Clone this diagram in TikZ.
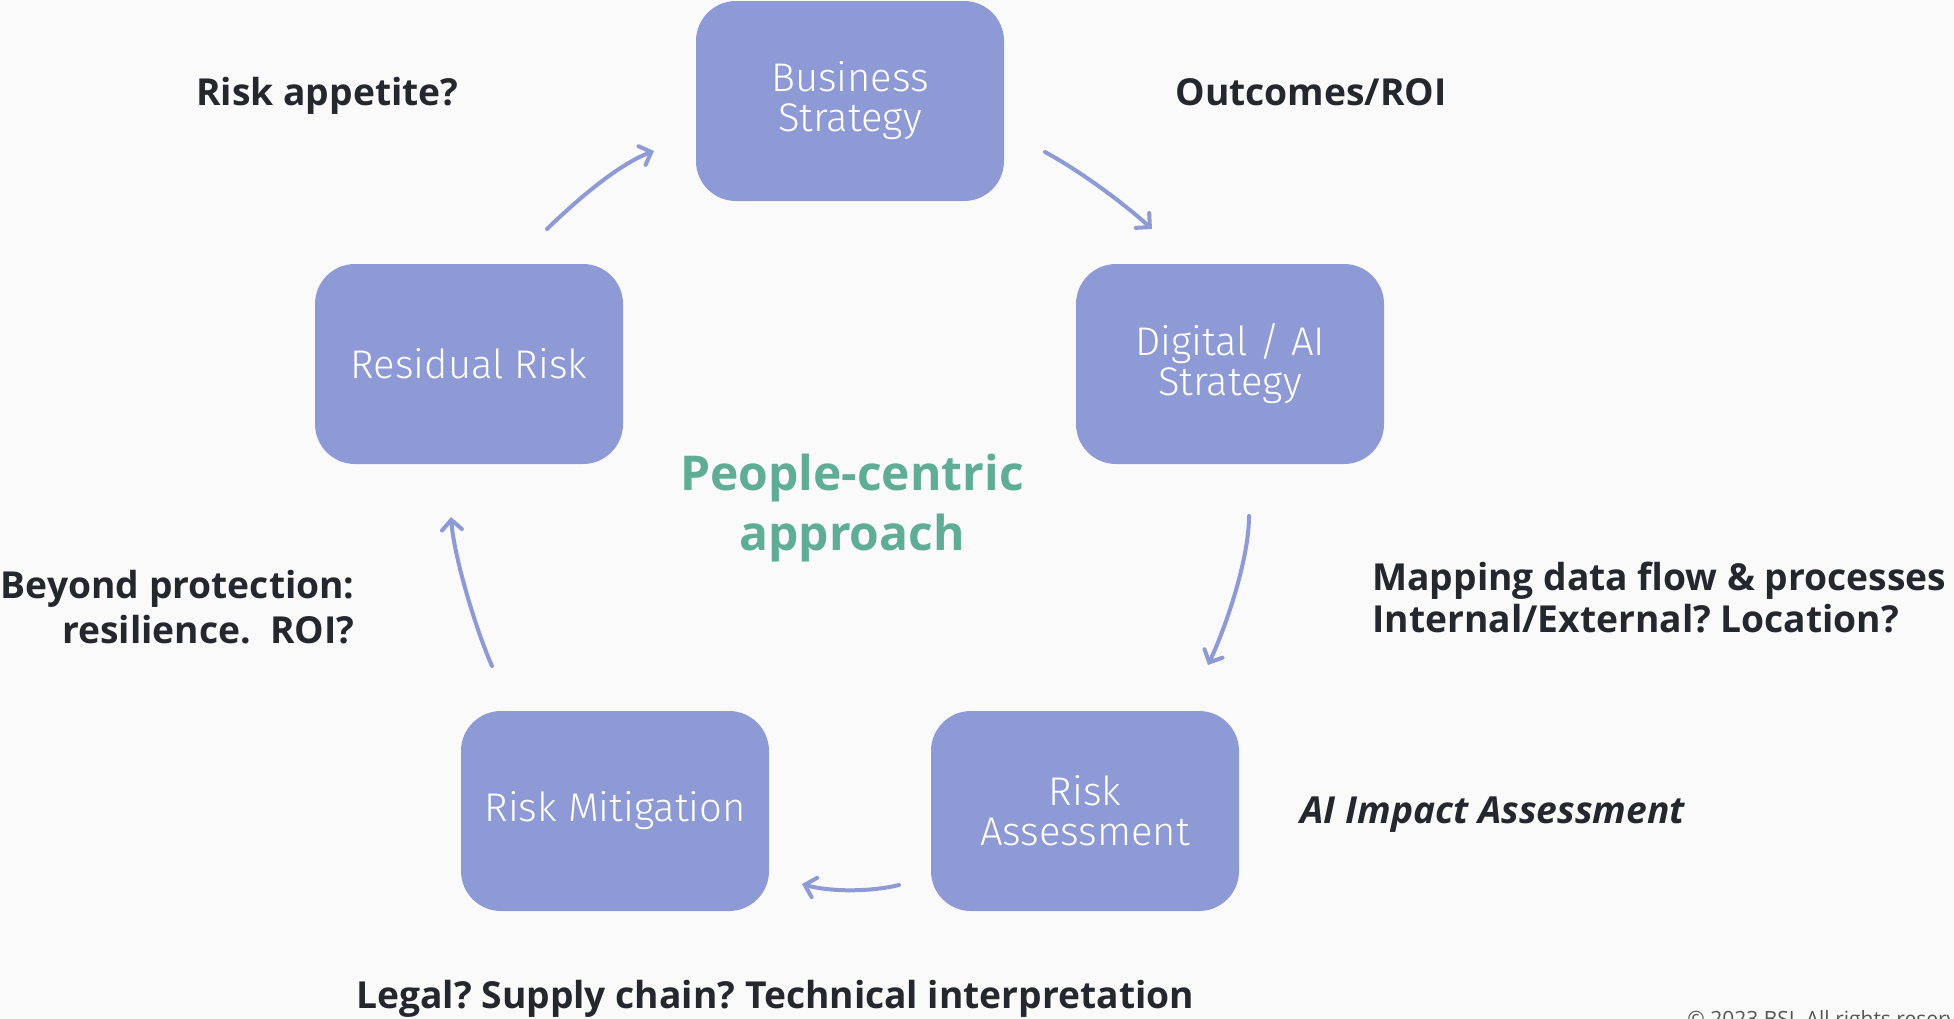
\documentclass[tikz,border=0pt]{standalone}
\usepackage{fontspec}
\setmainfont{Open Sans}
\newfontfamily\boxfont{Fira Sans Light}
\usetikzlibrary{arrows.meta}
\definecolor{bg}{HTML}{FAFAFA}
\definecolor{boxc}{HTML}{8E9AD6}
\definecolor{txt}{HTML}{24272E}
\definecolor{grn}{HTML}{5EAD94}
\definecolor{copyc}{HTML}{555555}
\frenchspacing
\begin{document}
\begin{tikzpicture}[x=0.5pt,y=-0.5pt,
  stage/.style={fill=boxc, draw=none, rounded corners=20pt, minimum width=154pt,
    minimum height=100pt, text=white, font=\boxfont\fontsize{20}{20}\selectfont,
    align=center, inner sep=0pt},
  lbl/.style={text=txt, font=\bfseries\fontsize{18.6}{23}\selectfont, inner sep=0pt},
  ctr/.style={text=grn, font=\bfseries\fontsize{24}{31}\selectfont, inner sep=0pt},
  flow/.style={draw=boxc, line width=2pt, line cap=round,
    -{Straight Barb[length=5pt,width=10pt,line cap=round]}}]
\fill[bg] (0,0) rectangle (1954,1018);
\useasboundingbox (0,0) rectangle (1954,1018);
\clip (0,0) rectangle (1954,1018);

% stages
\node[stage] (bs) at (850,101) {Business\\Strategy};
\node[stage] (dig) at (1230,364) {Digital / AI\\Strategy};
\node[stage] (ra) at (1085,811) {Risk\\Assessment};
\node[stage] (rm) at (615,811) {Risk Mitigation};
\node[stage] (rr) at (469,364) {Residual Risk};

% connector ends
\coordinate (a1s) at (1045,152); \coordinate (a1e) at (1152,229);
\coordinate (a2s) at (1249,516); \coordinate (a2e) at (1208,665);
\coordinate (a3s) at (899,885);  \coordinate (a3e) at (802,884);
\coordinate (a4s) at (492,666);  \coordinate (a4e) at (451,517);
\coordinate (a5s) at (547,229);  \coordinate (a5e) at (654,151);

\draw[flow] (a1s) .. controls (1080,171) and (1122,202) .. (a1e);
\draw[flow] (a2s) .. controls (1249,560) and (1225,629) .. (a2e);
\draw[flow] (a3s) .. controls (870,892) and (830,892) .. (a3e);
\draw[flow] (a4s) .. controls (476,630) and (454,557) .. (a4e);
\draw[flow] (a5s) .. controls (576,201) and (617,165) .. (a5e);

% labels
\node[lbl, anchor=base west] (l1) at (196,105) {Risk appetite?};
\node[lbl, anchor=base west] (l2) at (1175,105) {Outcomes/ROI};
\node[lbl, anchor=base east] (l3a) at (355,598) {Beyond protection:};
\node[lbl, anchor=base east] (l3b) at (355,643) {resilience.\ \ ROI?};
\node[lbl, anchor=base west] (l4a) at (1372,590) {Mapping data flow \& processes};
\node[lbl, anchor=base west] (l4b) at (1372,632) {Internal/External? Location?};
\node[lbl, anchor=base west, font=\bfseries\itshape\fontsize{18.6}{23}\selectfont] (l5) at (1300,823) {AI Impact Assessment};
\node[lbl, anchor=base west] (l6) at (356,1008) {Legal? Supply chain? Technical interpretation};
\node[ctr, anchor=base] (c1) at (852,490) {People-centric};
\node[ctr, anchor=base] (c2) at (852,550) {approach};
\node[anchor=base west, inner sep=0pt, text=copyc, font=\fontsize{10.5}{12}\selectfont] (cp) at (1687,1026) {© 2023 BSI. All rights reserved.};
\end{tikzpicture}
\end{document}
